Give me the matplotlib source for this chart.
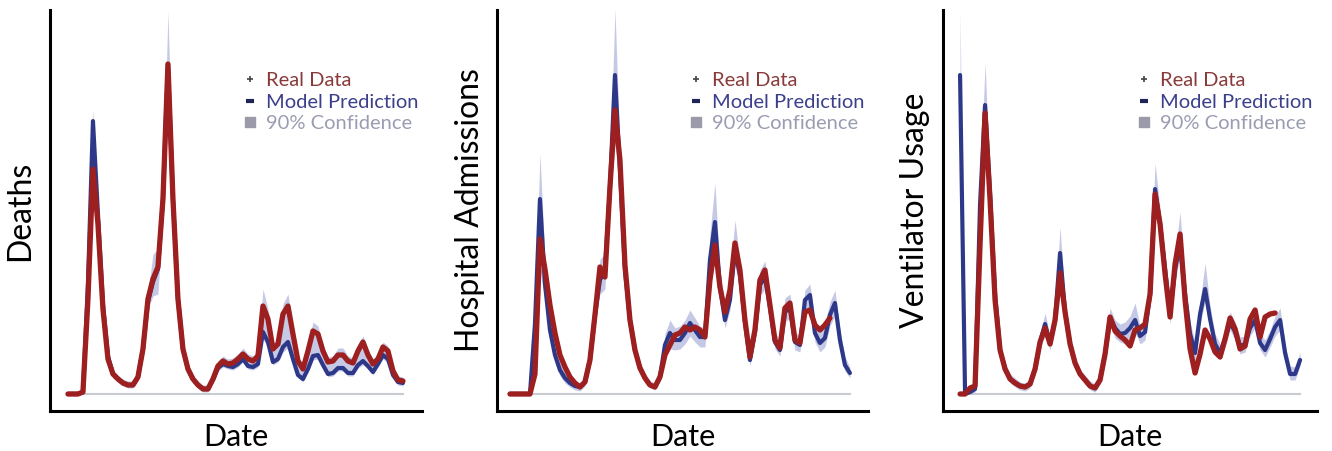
import numpy as np
import matplotlib
matplotlib.use("Agg")
import matplotlib.pyplot as plt
from matplotlib.lines import Line2D

plt.rcParams['font.family'] = ['Lato', 'DejaVu Sans']

# ---- data (daily values) ----
deaths_real = [0,0,0,2,95,225,170,85,35,20, 15,11,9,9,17,45,95,115,127,195,
               330,195,95,45,25,15,9,5,5,15, 28,33,30,31,35,40,35,33,38,88,
               75,45,50,80,88,60,33,25,43,63, 60,43,32,33,39,39,33,31,43,52,
               39,30,35,47,43,23,14,13]
deaths_model = [0,0,0,2,110,273,180,90,38,20, 15,11,9,9,17,45,92,112,125,195,
                330,195,95,45,25,15,9,5,5,14, 26,30,28,27,30,35,28,27,30,62,
                52,32,35,47,52,35,19,15,25,38, 39,29,20,21,26,26,21,21,29,33,
                28,22,30,39,35,19,12,11]
deaths_lo = [0,0,0,0,85,215,160,80,30,16, 12,8,6,6,13,40,85,98,100,185,
             300,185,88,40,21,11,6,2,2,11, 23,27,25,24,27,32,25,24,27,55,
             46,29,32,42,46,31,16,12,22,34, 35,26,17,18,23,23,18,18,26,29,
             25,19,27,35,31,16,9,8]
deaths_hi = [3,3,3,5,115,285,190,95,42,24, 19,15,13,13,21,50,102,140,145,205,
             383,205,102,50,29,19,13,9,9,19, 33,38,35,36,40,46,40,38,44,105,
             85,50,56,90,100,68,38,30,50,72, 68,48,37,38,46,46,38,36,50,58,
             44,35,40,52,48,28,18,17]

hosp_real = [0,0,0,0,0,20,155,125,89,61, 39,27,17,11,7,12,34,79,127,117,
             207,284,234,129,74,44,26,16,9,7, 17,39,49,59,61,67,64,67,64,57,
             114,149,107,82,104,151,124,74,37,64, 114,124,89,54,46,86,91,54,51,82,
             84,69,64,69,76]
hosp_model = [0,0,0,0,0,70,195,110,64,39, 24,16,11,8,7,12,34,79,114,124,
              207,319,224,124,74,44,26,16,9,7, 17,49,61,54,54,61,71,64,57,57,
              134,172,107,74,94,144,119,72,34,62, 109,117,87,52,44,82,86,52,49,94,
              99,61,51,56,79,91,54,29,21]
hosp_lo = [0,0,0,0,0,55,125,95,55,32, 18,11,7,4,3,8,28,70,100,105,
           190,250,205,112,66,38,21,12,6,4, 13,38,45,44,45,50,58,52,47,47,
           115,140,95,66,84,128,106,62,28,54, 98,105,78,45,38,72,76,44,42,80,
           84,52,42,47,68,78,46,23,16]
hosp_hi = [3,3,3,3,3,90,240,135,80,50, 32,22,16,12,11,17,42,90,135,140,
           225,385,245,140,84,52,32,21,13,11, 22,60,74,66,68,74,84,76,68,66,
           160,211,125,88,118,174,134,84,44,74, 124,133,98,62,54,96,100,62,58,104,
           110,74,64,70,92,104,64,37,27]

vent_real = [0,0,6,8,150,281,194,94,44,25, 15,11,8,7,10,25,52,66,50,74,
             121,82,50,31,20,14,8,6,14,40, 77,63,58,54,48,64,66,70,100,200,
             170,120,77,130,160,94,45,21,40,64, 55,42,37,55,76,65,45,48,75,84,
             57,77,80,81]
vent_model = [319,0,2,5,190,289,200,100,44,25, 15,11,8,7,10,25,52,70,50,74,
              141,82,50,31,20,14,8,6,14,40, 77,66,60,61,66,74,58,62,100,205,
              170,125,80,125,150,100,60,41,80,105, 75,50,41,55,72,62,48,50,66,74,
              51,44,55,67,74,41,20,20,34]
vent_lo = [300,0,0,2,170,270,185,88,38,20, 11,7,4,3,6,20,46,58,44,66,
           125,74,44,26,16,10,4,2,10,34, 70,56,52,50,56,62,50,54,90,190,
           155,112,70,112,138,88,50,32,70,92, 64,42,34,47,64,54,40,42,58,66,
           44,37,47,58,64,34,14,14,28]
vent_hi = [384,3,6,10,205,331,212,110,52,31, 20,16,12,11,15,32,60,81,58,84,
           167,92,58,37,25,19,13,10,19,48, 86,74,70,72,78,91,68,72,112,231,
           185,138,92,140,182,112,72,52,92,131, 88,60,50,64,82,72,57,58,76,86,
           60,54,64,78,86,50,28,27,42]

labels = ["Deaths", "Hospital Admissions", "Ventilator Usage"]

RED = "#9e1f1f"
BLUE = "#2e3888"
BAND = "#8088c8"

fig = plt.figure(figsize=(13.32, 4.51), dpi=100)

panels = [
    (deaths_real, deaths_model, deaths_lo, deaths_hi, [0.0375, 0.0887, 0.2793, 0.889], (-3.6, 70.8), -0.040),
    (hosp_real, hosp_model, hosp_lo, hosp_hi, [0.3731, 0.0887, 0.2785, 0.889], (-2.6, 71.6), -0.032),
    (vent_real, vent_model, vent_lo, vent_hi, [0.7080, 0.0887, 0.2808, 0.889], (-3.4, 71.4), -0.035),
]

for i, (real, model, lo, hi, rect, xl, ylx) in enumerate(panels):
    ax = fig.add_axes(rect)
    dm = np.arange(len(model))
    dr = np.arange(len(real))
    ax.plot([dm[0], dm[-1]], [0, 0], color="#c9cbd3", lw=1.5, zorder=1)
    ax.fill_between(dm, lo, hi, color=BAND, alpha=0.45, lw=0, zorder=2)
    ax.plot(dm, model, color=BLUE, lw=3.0, zorder=3, solid_joinstyle='round',
            solid_capstyle='round')
    ax.plot(dr, real, color=RED, lw=3.8, zorder=4, solid_joinstyle='round',
            solid_capstyle='round')
    ax.set_xlim(*xl)
    ax.set_ylim(-17, 384)
    ax.set_xticks([])
    ax.set_yticks([])
    for s in ["top", "right"]:
        ax.spines[s].set_visible(False)
    for s in ["left", "bottom"]:
        ax.spines[s].set_linewidth(2.2)
        ax.spines[s].set_color("black")
    ax.set_xlabel("Date", fontsize=22)
    ax.xaxis.set_label_coords(0.5, -0.03)
    ax.set_ylabel(labels[i], fontsize=23)
    ax.yaxis.set_label_coords(ylx, 0.5)

    handles = [
        Line2D([], [], ls="none", marker="+", ms=5, mew=1.2, color="#444444"),
        Line2D([], [], ls="none", marker="_", ms=6, mew=3, color="#1f2558"),
        Line2D([], [], ls="none", marker="s", ms=7, color="#9a9aa8"),
    ]
    ax.legend(handles, ["Real Data", "Model Prediction", "90% Confidence"],
              loc="upper left", bbox_to_anchor=(0.515, 0.845), frameon=False,
              fontsize=14.5, handlelength=0.8, handletextpad=0.4,
              borderpad=0, borderaxespad=0, labelspacing=0.22,
              labelcolor=["#8a3a3a", "#3c408c", "#9a9cb2"])

fig.savefig("out.png", dpi=100)
